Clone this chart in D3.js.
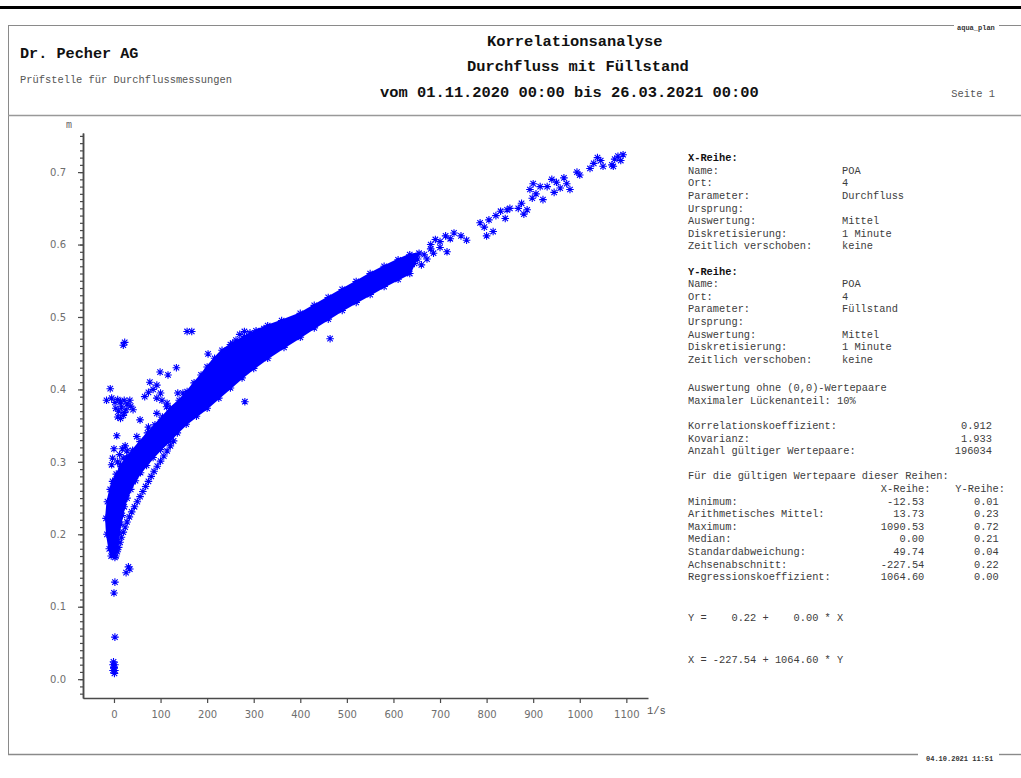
<!DOCTYPE html>
<html>
<head>
<meta charset="utf-8">
<script src="https://cdn.jsdelivr.net/npm/d3@7"></script>
<style>
  html, body { margin: 0; padding: 0; background: #fff; }
  svg { display: block; }
  text { white-space: pre; }
</style>
</head>
<body>
<svg id="chart" width="1021" height="778"></svg>
<script>
// ---------- axis ticks ----------
const xTicks = [0, 100, 200, 300, 400, 500, 600, 700, 800, 900, 1000, 1100];
const yTicks = [0.0, 0.1, 0.2, 0.3, 0.4, 0.5, 0.6, 0.7];
const xUnit = "1/s";
const yUnit = "m";

// ---------- measured pairs: Durchfluss (l/s) vs. Füllstand (m) ----------
// dense core of the point cloud: left/upper edge, from the lower tip upwards
const bandUpper = [
  [-6, .170], [-10, .180], [-15, .200], [-17, .222], [-14, .245], [-8, .262], [-3, .273],
  [5, .283], [15, .294], [27, .305], [40, .316], [56, .328], [72, .340], [88, .351],
  [104, .362], [121, .374], [140, .385], [157, .397], [172, .409], [187, .420], [200, .431],
  [216, .443], [232, .454], [255, .464], [280, .473], [305, .481], [330, .488], [360, .495],
  [400, .505], [430, .516], [460, .527], [490, .538], [520, .549], [550, .560], [580, .570],
  [610, .579], [635, .586], [655, .588]
];
// dense core: right/lower edge, from the lower tip upwards
const bandLower = [
  [2, .168], [5, .178], [8, .190], [11, .202], [14, .214], [18, .226], [22, .238], [28, .250],
  [36, .262], [46, .274], [57, .285], [70, .295], [84, .306], [100, .317], [118, .328],
  [136, .340], [155, .352], [177, .363], [200, .374], [225, .388], [250, .402], [275, .416],
  [300, .429], [330, .443], [365, .458], [400, .472], [430, .485], [460, .497], [490, .509],
  [520, .520], [550, .531], [580, .542], [610, .552], [635, .560]
];
// separate thin branch below the core
const armPoints = [
  [4, .170], [7, .176], [10, .182], [13, .189], [16, .196], [20, .203], [24, .210], [28, .217],
  [33, .224], [38, .231], [44, .238], [50, .245], [56, .252], [62, .259], [68, .266], [74, .273],
  [80, .280], [86, .287], [93, .294], [100, .301], [107, .308], [114, .315], [121, .322], [128, .329]
];
// single points and small groups outside the core
const scatterPoints = [
  [20, .461], [23, .465], [157, .480], [167, .480], [-8, .401], [99, .424], [116, .420],
  [134, .430], [202, .449], [281, .383], [464, .470],
  [250, .462], [262, .468], [270, .476], [280, .480], [292, .478], [300, .476], [312, .480], [322, .484],
  [-16, .385], [-5, .388], [2, .382], [8, .386], [14, .383], [22, .385], [28, .380], [34, .385],
  [4, .374], [10, .370], [16, .376], [22, .368], [8, .362], [14, .360], [20, .364], [26, .372],
  [41, .372], [36, .377],
  [66, .390], [74, .396], [77, .410], [84, .400], [92, .406], [92, .388], [100, .395], [103, .385],
  [137, .395], [148, .395], [156, .394], [114, .381], [113, .376],
  [56, .358], [74, .348], [49, .335], [92, .367], [102, .358],
  [8, .300], [12, .310], [18, .318], [24, .322], [28, .315], [32, .308], [20, .305],
  [14, .296], [26, .300], [-5, .296], [-2, .261], [0, .318], [-3, .305], [6, .336],
  [2, .134], [0, .119], [2, .058], [31, .155], [34, .152], [26, .147],
  [-2, .012], [2, .012], [-2, .020], [2, .020], [0, .016], [-1, .024], [1, .008],
  [645, .574], [652, .580], [660, .572], [666, .586], [672, .580], [680, .594], [686, .588],
  [680, .600], [690, .607], [700, .604], [712, .612], [722, .608], [730, .616], [745, .612],
  [757, .606], [700, .596], [715, .590],
  [786, .630], [795, .624], [805, .634], [814, .618], [800, .612],
  [820, .640], [830, .646], [840, .636], [844, .648], [850, .650],
  [868, .650], [875, .657], [880, .642], [887, .648],
  [893, .676], [900, .684], [906, .670], [915, .680], [921, .662], [898, .664],
  [930, .680], [940, .690], [950, .686], [958, .678], [966, .692], [972, .684], [979, .676], [945, .672],
  [994, .700], [1000, .696],
  [1022, .705], [1030, .712], [1038, .720], [1045, .716], [1050, .708],
  [1069, .710], [1075, .718], [1082, .722], [1088, .716], [1093, .724], [1072, .708]
];

// ---------- report texts ----------
const companyName = "Dr. Pecher AG";
const companySub = "Prüfstelle für Durchflussmessungen";
const titleLines = ["Korrelationsanalyse", "Durchfluss mit Füllstand", "vom 01.11.2020 00:00 bis 26.03.2021 00:00"];
const pageLabel = "Seite 1";
const programLabel = "aqua_plan";
const printDate = "04.10.2021 11:51";

const seriesLabels = ["Name:", "Ort:", "Parameter:", "Ursprung:", "Auswertung:", "Diskretisierung:", "Zeitlich verschoben:"];
const xSeriesValues = ["POA", "4", "Durchfluss", "", "Mittel", "1 Minute", "keine"];
const ySeriesValues = ["POA", "4", "Füllstand", "", "Mittel", "1 Minute", "keine"];
const optionLines = ["Auswertung ohne (0,0)-Wertepaare", "Maximaler Lückenanteil: 10%"];
const corrLabels = ["Korrelationskoeffizient:", "Kovarianz:", "Anzahl gültiger Wertepaare:"];
const corrValues = ["0.912", "1.933", "196034"];
const statsTitle = "Für die gültigen Wertepaare dieser Reihen:";
const statsLabels = ["Minimum:", "Arithmetisches Mittel:", "Maximum:", "Median:", "Standardabweichung:", "Achsenabschnitt:", "Regressionskoeffizient:"];
const statsX = ["-12.53", "13.73", "1090.53", "0.00", "49.74", "-227.54", "1064.60"];
const statsY = ["0.01", "0.23", "0.72", "0.21", "0.04", "0.22", "0.00"];
const equations = ["Y =    0.22 +    0.00 * X", "X = -227.54 + 1064.60 * Y"];

// ---------- drawing ----------
const svg = d3.select("#chart");
const MONO = "'Liberation Mono', 'Courier New', monospace";
const SANS = "'DejaVu Sans', Verdana, sans-serif";
const BLUE = "#0000ff";

// page frame
svg.append("rect").attr("x", 0).attr("y", 6).attr("width", 1021).attr("height", 3).attr("fill", "#000");
const frame = svg.append("g").attr("stroke", "#8a8a8a").attr("stroke-width", 1).attr("fill", "none");
frame.append("line").attr("x1", 8).attr("x2", 954).attr("y1", 25.5).attr("y2", 25.5);
frame.append("line").attr("x1", 999).attr("x2", 1021).attr("y1", 25.5).attr("y2", 25.5);
frame.append("line").attr("x1", 8.5).attr("x2", 8.5).attr("y1", 25.5).attr("y2", 754.5);
frame.append("line").attr("x1", 8).attr("x2", 1021).attr("y1", 115.5).attr("y2", 115.5).attr("stroke-width", 1.6).attr("stroke", "#999");
frame.append("line").attr("x1", 8).attr("x2", 918).attr("y1", 754.5).attr("y2", 754.5).attr("stroke-width", 1.4);
frame.append("line").attr("x1", 999).attr("x2", 1021).attr("y1", 754.5).attr("y2", 754.5).attr("stroke-width", 1.4);

svg.append("text").attr("x", 957).attr("y", 28.5).attr("dominant-baseline", "middle")
  .attr("font-family", MONO).attr("font-weight", "bold").attr("font-size", 7).attr("fill", "#333").text(programLabel);
svg.append("text").attr("x", 926).attr("y", 759.5).attr("dominant-baseline", "middle")
  .attr("font-family", MONO).attr("font-weight", "bold").attr("font-size", 7).attr("fill", "#333").text(printDate);

// header
svg.append("text").attr("x", 20).attr("y", 53.5).attr("dominant-baseline", "middle")
  .attr("font-family", MONO).attr("font-weight", "bold").attr("font-size", 15.2).attr("fill", "#111").text(companyName);
svg.append("text").attr("x", 20).attr("y", 80).attr("dominant-baseline", "middle")
  .attr("font-family", MONO).attr("font-size", 10.4).attr("fill", "#555").text(companySub);
const titleX = [487, 467, 380];
const titleY = [41.7, 66.7, 92.7];
svg.selectAll("text.title").data(titleLines).join("text").attr("class", "title")
  .attr("x", (d, i) => titleX[i]).attr("y", (d, i) => titleY[i]).attr("dominant-baseline", "middle")
  .attr("font-family", MONO).attr("font-weight", "bold").attr("font-size", 15.4).attr("fill", "#111").text(d => d);
svg.append("text").attr("x", 995).attr("y", 94).attr("text-anchor", "end").attr("dominant-baseline", "middle")
  .attr("font-family", MONO).attr("font-size", 10.4).attr("fill", "#555").text(pageLabel);

// scales
const x = d3.scaleLinear().domain([-66.5, 1146.5]).range([83, 648]);
const y = d3.scaleLinear().domain([-0.026, 0.754]).range([698, 133]);

// axes
const axisColor = "#4a4a4a";
const xAxis = svg.append("g").attr("transform", "translate(0,698)")
  .call(d3.axisBottom(x).tickValues(xTicks).tickSize(5).tickSizeOuter(0).tickPadding(8).tickFormat(d3.format("d")));
const yMinor = d3.range(-2, 76).map(i => i / 100);
svg.append("g").attr("transform", "translate(83,0)")
  .call(d3.axisLeft(y).tickValues(yMinor).tickSize(3).tickSizeOuter(0).tickFormat(""));
svg.append("g").attr("transform", "translate(83,0)")
  .call(d3.axisLeft(y).tickValues(yTicks).tickSize(5).tickSizeOuter(0).tickPadding(12).tickFormat(d3.format(".1f")));
svg.selectAll(".domain").attr("stroke", axisColor).attr("stroke-width", 1.5);
svg.selectAll(".tick line").attr("stroke", axisColor).attr("stroke-width", 1.2);
svg.selectAll(".tick text").attr("font-family", SANS).attr("font-size", 10).attr("fill", "#6e6e6e");
xAxis.selectAll(".tick text").attr("dy", "0.71em");

svg.append("text").attr("x", 66).attr("y", 125).attr("dominant-baseline", "middle")
  .attr("font-family", MONO).attr("font-size", 10).attr("fill", "#666").text(yUnit);
svg.append("text").attr("x", 647).attr("y", 711).attr("dominant-baseline", "middle")
  .attr("font-family", MONO).attr("font-size", 10.5).attr("fill", "#555").text(xUnit);

// point cloud
const plot = svg.append("g");
const outline = bandUpper.concat(bandLower.slice().reverse());
plot.append("path")
  .attr("d", d3.line().x(d => x(d[0])).y(d => y(d[1])).curve(d3.curveLinearClosed)(outline))
  .attr("fill", BLUE).attr("stroke", BLUE).attr("stroke-width", 2);

function starPath(r) {
  const d = r * 0.72;
  return `M${-r},0L${r},0M0,${-r}L0,${r}M${-d},${-d}L${d},${d}M${-d},${d}L${d},${-d}`;
}
const allStars = bandUpper.concat(bandLower, armPoints, scatterPoints);
plot.selectAll("path.star").data(allStars).join("path").attr("class", "star")
  .attr("transform", d => `translate(${x(d[0])},${y(d[1])})`)
  .attr("d", starPath(3.8))
  .attr("fill", "none").attr("stroke", BLUE).attr("stroke-width", 1.1);

// statistics panel
const panel = svg.append("g").attr("font-family", MONO).attr("font-size", 10.35).attr("fill", "#3c3c3c");
const PX = 688, VX = 842, PITCH = 12.62;
function row(txt, xx, yy, opts = {}) {
  const t = panel.append("text").attr("x", xx).attr("y", yy).attr("dominant-baseline", "middle").text(txt);
  if (opts.bold) t.attr("font-weight", "bold").attr("fill", "#111");
  if (opts.end) t.attr("text-anchor", "end");
  return t;
}
const top1 = 158.3;
row("X-Reihe:", PX, top1, { bold: true });
seriesLabels.forEach((l, i) => { row(l, PX, top1 + PITCH * (i + 1)); row(xSeriesValues[i], VX, top1 + PITCH * (i + 1)); });
row("Y-Reihe:", PX, top1 + PITCH * 9, { bold: true });
seriesLabels.forEach((l, i) => { row(l, PX, top1 + PITCH * (i + 10)); row(ySeriesValues[i], VX, top1 + PITCH * (i + 10)); });

const top2 = 388.3;
optionLines.forEach((l, i) => row(l, PX, top2 + PITCH * i));
corrLabels.forEach((l, i) => { row(l, PX, top2 + PITCH * (i + 3)); row(corrValues[i], 992, top2 + PITCH * (i + 3), { end: true }); });
row(statsTitle, PX, top2 + PITCH * 7);
row("X-Reihe:", 930.5, top2 + PITCH * 8, { end: true });
row("Y-Reihe:", 1005, top2 + PITCH * 8, { end: true });
statsLabels.forEach((l, i) => {
  const yy = top2 + PITCH * (i + 9);
  row(l, PX, yy);
  row(statsX[i], 924.3, yy, { end: true });
  row(statsY[i], 998.8, yy, { end: true });
});
row(equations[0], PX, 618.3);
row(equations[1], PX, 660);
</script>
</body>
</html>
